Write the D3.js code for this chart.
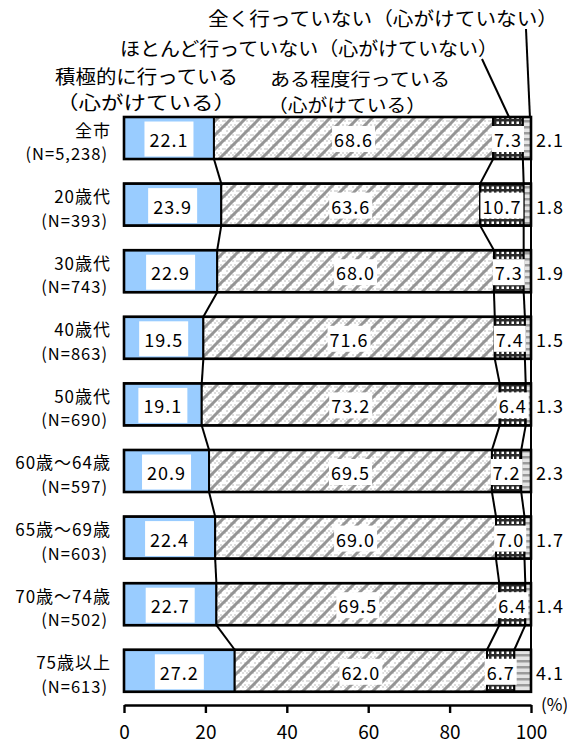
<!DOCTYPE html>
<html><head><meta charset="utf-8">
<script src="https://cdn.jsdelivr.net/npm/d3@7"></script>
<style>
body{margin:0;background:#fff;}
text{font-family:"Noto Sans CJK JP","Noto Sans",sans-serif;fill:#000;}
</style></head>
<body><svg id="c" width="567" height="746"></svg>
<script>
const categories = ["全市","20歳代","30歳代","40歳代","50歳代","60歳～64歳","65歳～69歳","70歳～74歳","75歳以上"];
const sampleSizes = ["(N=5,238)","(N=393)","(N=743)","(N=863)","(N=690)","(N=597)","(N=603)","(N=502)","(N=613)"];
const seriesNames = ["積極的に行っている（心がけている）","ある程度行っている（心がけている）","ほとんど行っていない（心がけていない）","全く行っていない（心がけていない）"];
const sekkyoku = [22.1,23.9,22.9,19.5,19.1,20.9,22.4,22.7,27.2];
const aruteido = [68.6,63.6,68.0,71.6,73.2,69.5,69.0,69.5,62.0];
const hotondo  = [7.3,10.7,7.3,7.4,6.4,7.2,7.0,6.4,6.7];
const mattaku  = [2.1,1.8,1.9,1.5,1.3,2.3,1.7,1.4,4.1];
const xTicks = [0,20,40,60,80,100];

const series = [sekkyoku, aruteido, hotondo, mattaku];
const svg = d3.select("#c");
const x = d3.scaleLinear().domain([0,100]).range([124,531]);
const y = d3.scaleBand().domain(categories).range([117,691.8]).paddingInner(0.369).paddingOuter(0);
const bw = y.bandwidth();

// patterns
const defs = svg.append("defs");
const p2 = defs.append("pattern").attr("id","pat2").attr("patternUnits","userSpaceOnUse").attr("width",14).attr("height",14);
p2.append("rect").attr("width",14).attr("height",14).attr("fill","#fff");
for(let i=0;i<14;i+=4){for(let j=0;j<14;j+=4){p2.append("rect").attr("x",i+((j/4)%2)*2).attr("y",j).attr("width",2).attr("height",2).attr("fill","#dedede");}}
p2.append("path").attr("d","M-2,16 L16,-2 M-2,2 L2,-2 M12,16 L16,12").attr("stroke","#959595").attr("stroke-width",3);
const p3 = defs.append("pattern").attr("id","pat3").attr("patternUnits","userSpaceOnUse").attr("width",5).attr("height",5);
p3.append("rect").attr("width",5).attr("height",5).attr("fill","#2a2a2a");
p3.append("rect").attr("x",1.5).attr("y",1.5).attr("width",2.5).attr("height",2.5).attr("fill","#fff");
const p4 = defs.append("pattern").attr("id","pat4").attr("patternUnits","userSpaceOnUse").attr("width",6).attr("height",6);
p4.append("rect").attr("width",6).attr("height",6).attr("fill","#e4e4e4");
p4.append("rect").attr("x",0).attr("y",0).attr("width",6).attr("height",2.5).attr("fill","#9a9a9a");
const fills = ["#99ccff","url(#pat2)","url(#pat3)","url(#pat4)"];

// cumulative
const rows = categories.map((c,i)=>{
  let acc=0; const segs=[];
  series.forEach((s,k)=>{const a=acc; acc+=s[i]; segs.push({k, v:s[i], x0:a, x1:Math.min(acc,100)});});
  segs[3].x1=100;
  return {c, i, segs};
});

// connectors
const conn = svg.append("g");
for(let i=0;i<rows.length-1;i++){
  for(let k=0;k<4;k++){
    conn.append("line")
      .attr("x1",x(rows[i].segs[k].x1)).attr("y1",y(categories[i])+bw)
      .attr("x2",x(rows[i+1].segs[k].x1)).attr("y2",y(categories[i+1]))
      .attr("stroke","#000").attr("stroke-width",2);
  }
}

const bars = svg.append("g").selectAll("g").data(rows).join("g");
bars.selectAll("rect.seg").data(d=>d.segs.map(s=>({...s,c:d.c}))).join("rect").attr("class","seg")
  .attr("x",s=>x(s.x0)).attr("width",s=>x(s.x1)-x(s.x0))
  .attr("y",s=>y(s.c)).attr("height",bw).attr("fill",s=>fills[s.k])
  .attr("stroke","#000").attr("stroke-width",2);
bars.append("rect").attr("x",x(0)).attr("width",x(100)-x(0)).attr("y",d=>y(d.c)).attr("height",bw)
  .attr("fill","none").attr("stroke","#000").attr("stroke-width",2.6);

const fmt = d3.format(".1f");
bars.each(function(d){
  const g = d3.select(this); const cy = y(d.c)+bw/2;
  d.segs.forEach(s=>{
    if(s.k<3){
      const cx = (x(s.x0)+x(s.x1))/2;
      const t = g.append("text").attr("x",cx).attr("y",cy+1).attr("text-anchor","middle")
        .attr("dominant-baseline","central").attr("font-size",18).attr("letter-spacing",1).text(fmt(s.v));
      const bb = t.node().getBBox();
      let w = bb.width+4, h = 26;
      if(s.k===0){w=49; h=35;}
      g.insert("rect","text").attr("x",cx-w/2).attr("y",cy+1-h/2).attr("width",w).attr("height",h).attr("fill","#fff");
    } else {
      g.append("text").attr("x",x(100)+5).attr("y",cy+1).attr("dominant-baseline","central")
        .attr("font-size",18).attr("letter-spacing",1).text(fmt(s.v));
    }
  });
});
bars.each(function(){ const g=d3.select(this); g.selectAll("text").raise(); });

// category labels
const cl = svg.append("g");
categories.forEach((c,i)=>{
  const cy = y(c)+bw/2;
  cl.append("text").attr("x",111).attr("y",cy-9).attr("text-anchor","end").attr("dominant-baseline","central").attr("font-size",17).attr("letter-spacing",1).text(c);
  cl.append("text").attr("x",108).attr("y",cy+15).attr("text-anchor","end").attr("dominant-baseline","central").attr("font-size",16.5).attr("letter-spacing",1).text(sampleSizes[i]);
});

// axis
const ax = svg.append("g").attr("transform","translate(0,705)")
  .call(d3.axisBottom(x).tickValues(xTicks).tickSize(8).tickSizeOuter(0).tickPadding(13).tickFormat(d3.format("d")));
ax.select(".domain").attr("stroke","#000").attr("stroke-width",2.4);
ax.selectAll(".tick line").attr("stroke","#000").attr("stroke-width",2.4);
ax.selectAll(".tick text").attr("font-size",19).attr("font-family","'Noto Sans CJK JP',sans-serif").attr("fill","#000");
svg.append("text").attr("x",541).attr("y",703).attr("dominant-baseline","central").attr("font-size",17).text("(%)");

// legend annotations
const lg = svg.append("g");
function lt(txt,x0,cy,len,fs){lg.append("text").attr("x",x0).attr("y",cy).attr("dominant-baseline","central").attr("font-size",fs)
  .attr("textLength",len).attr("lengthAdjust","spacingAndGlyphs").text(txt);}
lt("全く行っていない（心がけていない）",208,17,350,19);
lt("ほとんど行っていない（心がけていない）",120,47,378,19);
lt("積極的に行っている",55,75,183,19);
lt("（心がけている）",56,101,180,19);
lt("ある程度行っている",270,78,180,18);
lt("（心がけている）",268,104,158,18);
const r0 = rows[0];
lg.append("line").attr("x1",482).attr("y1",59).attr("x2",(x(r0.segs[2].x0)+x(r0.segs[2].x1))/2+1).attr("y2",y(categories[0]))
  .attr("stroke","#000").attr("stroke-width",2);
lg.append("line").attr("x1",526).attr("y1",29).attr("x2",(x(r0.segs[3].x0)+x(r0.segs[3].x1))/2+3).attr("y2",y(categories[0]))
  .attr("stroke","#000").attr("stroke-width",2);
</script></body></html>
